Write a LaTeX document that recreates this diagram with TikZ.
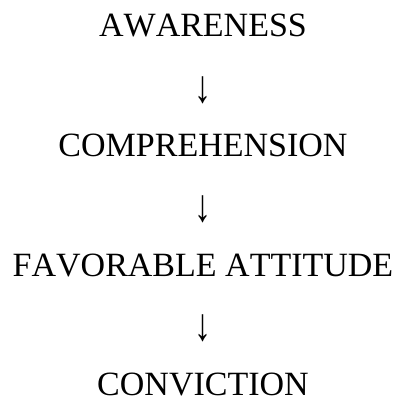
\documentclass[tikz,border=0pt]{standalone}
\usepackage{fontspec}
\setmainfont[Kerning=Off]{Liberation Serif}
\begin{document}
\begin{tikzpicture}[x=1pt,y=1pt,
  lbl/.style={inner sep=0pt,anchor=base,text depth=0pt,font=\fontsize{34}{40}\selectfont},
  arr/.style={inner sep=0pt,anchor=center,font=\fontsize{34}{40}\selectfont}]
\useasboundingbox (0,0) rectangle (399,400);
\node[lbl] (aw) at (203,363) {AWARENESS};
\node[arr] (a1) at (203,309.5) {\scalebox{1}[1.35]{↓}};
\node[lbl] (co) at (203,243) {COMPREHENSION};
\node[arr] (a2) at (203,191) {\scalebox{1}[1.35]{↓}};
\node[lbl] (fa) at (203,123) {FAVORABLE ATTITUDE};
\node[arr] (a3) at (203,72) {\scalebox{1}[1.35]{↓}};
\node[lbl] (cv) at (203,5) {CONVICTION};
\end{tikzpicture}
\end{document}
